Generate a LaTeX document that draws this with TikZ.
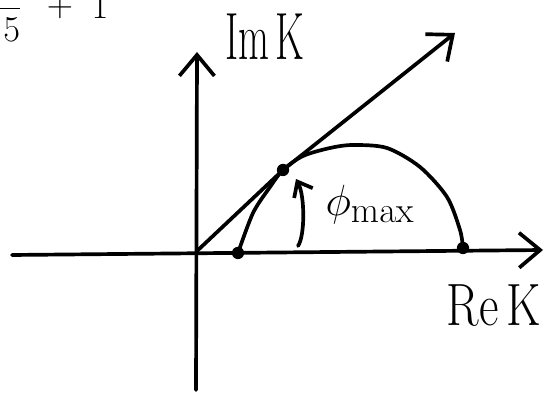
\documentclass[tikz,border=0pt]{standalone}
\usetikzlibrary{arrows.meta}

\begin{document}
\begin{tikzpicture}[x=0.02cm,y=-0.02cm,line width=2.1pt,line cap=round,
  axisarrow/.style={-{Straight Barb[length=4.2mm,width=7mm,line width=2.1pt]}},
  anglearrow/.style={-{Straight Barb[length=2.6mm,width=4.2mm,line width=2.1pt]}},
  locus/.style={circle,fill,inner sep=0pt,minimum size=7pt}]
\useasboundingbox (0,0) rectangle (552,401);

% axes
\coordinate (left) at (12,255);
\coordinate (right) at (543,250);
\coordinate (bottom) at (196,390);
\coordinate (top) at (197,52);
\coordinate (orig) at (197,251);
\coordinate (tip) at (455,33);
\draw[axisarrow] (left) -- (right);
\draw[axisarrow] (bottom) -- (top);

% half circle of K
\node[locus] (kzero) at (238,253) {};
\node[locus] (ktouch) at (283,170) {};
\node[locus] (kinf) at (463,248) {};
\draw[axisarrow] (orig) -- (ktouch.center) -- (tip);
\draw plot[smooth,tension=0.5] coordinates {(kzero.center) (253,213) (270,187)
  (ktouch.center) (303,156) (330,148) (353,145) (387,148) (420,167) (447,197)
  (460,230) (kinf.center)};

% angle
\coordinate (afoot) at (298,246);
\coordinate (ahead) at (296,179);
\draw[anglearrow] (afoot) .. controls (305,236) and (305,196) .. (ahead);

% labels
\node (imk) at (265,37) {\fontsize{38}{40}\selectfont\scalebox{0.6}[1]{Im\,K}};
\node (rek) at (494,306) {\fontsize{34}{36}\selectfont\scalebox{0.8}[1]{Re\,K}};
\node (phimax) at (370,205) {\fontsize{28}{30}\selectfont$\phi_{\max}$};
\node[anchor=base east,inner sep=0pt] (frac) at (24,17)
  {\fontsize{22}{26}\selectfont$\displaystyle\frac{\hphantom{00}}{\hphantom{0}5}$};
\node[anchor=base,inner sep=0pt] (plus) at (60,17)
  {\fontsize{22}{26}\selectfont$+$};
\node[anchor=base,inner sep=0pt] (one) at (100,19)
  {\fontsize{22}{26}\selectfont$1$};
\end{tikzpicture}
\end{document}
